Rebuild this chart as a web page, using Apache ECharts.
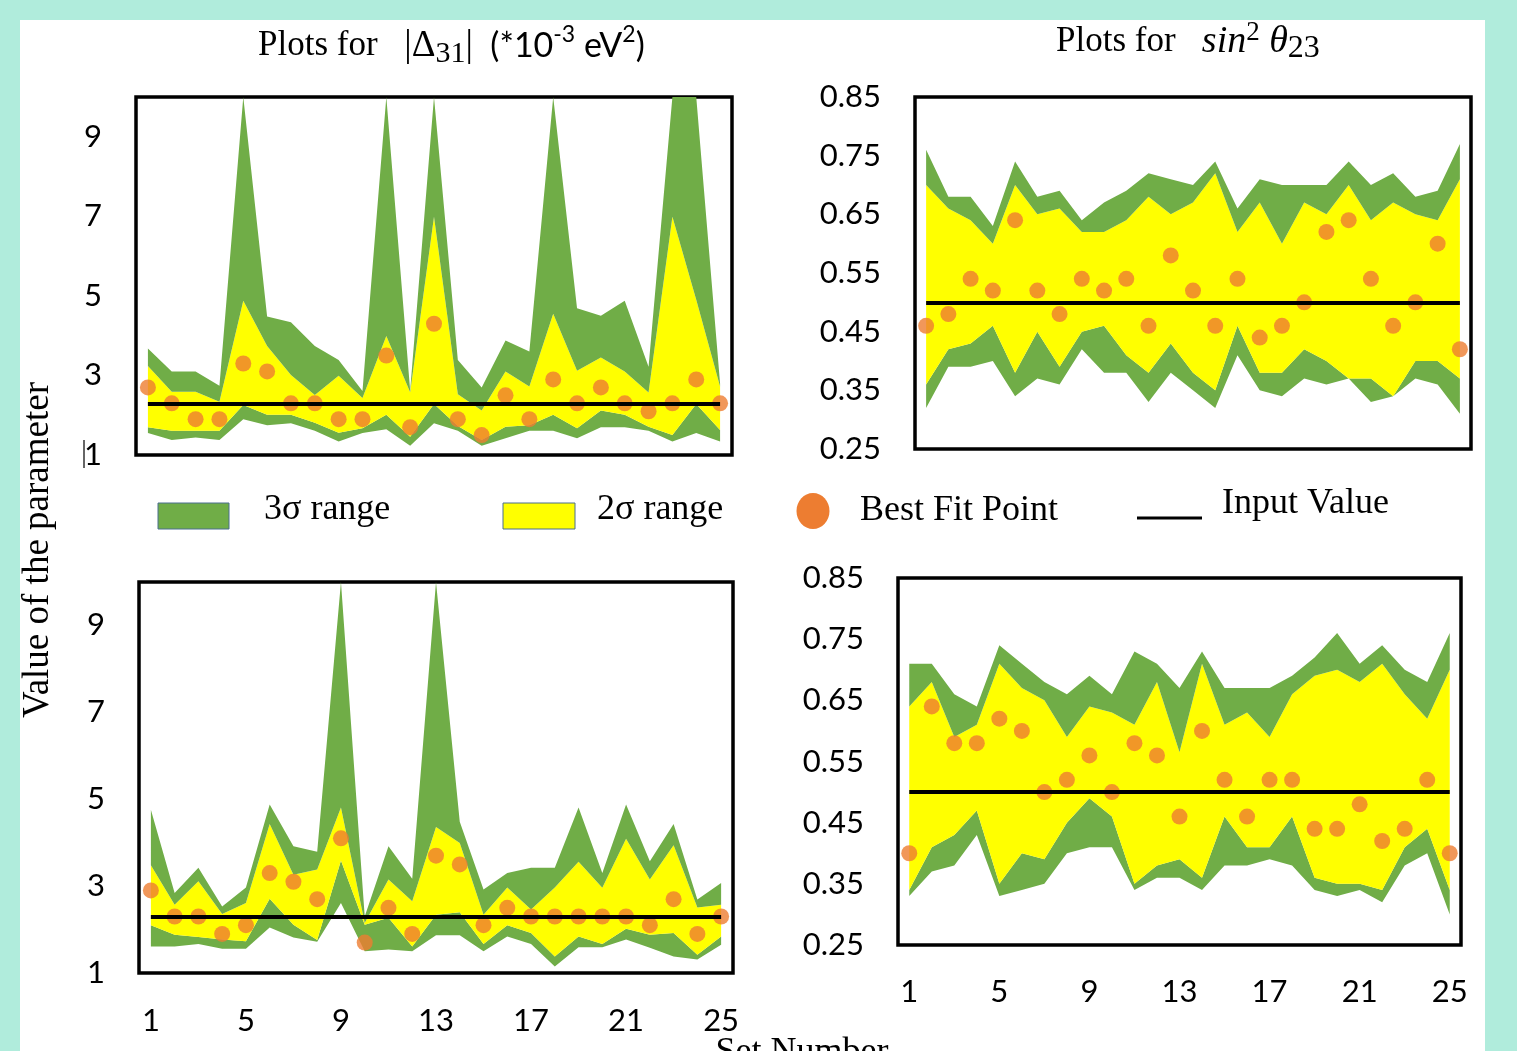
<!DOCTYPE html>
<html>
<head>
<meta charset="utf-8">
<script src="https://cdn.jsdelivr.net/npm/echarts@6/dist/echarts.min.js"></script>
<style>
html,body{margin:0;padding:0;background:#b0ecdc;width:1517px;height:1051px;overflow:hidden;}
#bg{position:absolute;left:20px;top:20px;width:1465px;height:1031px;background:#fff;}
#c{position:absolute;left:0;top:0;width:1517px;height:1051px;}
</style>
</head>
<body>
<div id="bg"></div>
<div id="c"></div>
<script>
// ---------- data ----------
const sets = ['1','2','3','4','5','6','7','8','9','10','11','12','13','14','15','16','17','18','19','20','21','22','23','24','25'];
const setTicksShown = ['1','5','9','13','17','21','25'];
const deltaTicks = [1, 3, 5, 7, 9];
const thetaTicks = [0.25, 0.35, 0.45, 0.55, 0.65, 0.75, 0.85];
const inputDelta = 2.3;
const inputTheta = 0.5;

// top-left: |Δ31|
const dTopBest = [2.7,2.3,1.9,1.9,3.3,3.1,2.3,2.3,1.9,1.9,3.5,1.7,4.3,1.9,1.5,2.5,1.9,2.9,2.3,2.7,2.3,2.1,2.3,2.9,2.3];
const dTop3Up  = [3.68,3.1,3.1,2.74,10,4.48,4.34,3.74,3.39,2.61,10,2.62,10,3.39,2.7,3.88,3.6,10,4.69,4.5,4.88,3.22,10,10,2.8];
const dTop2Up  = [3.24,2.59,2.59,2.34,4.88,3.74,3.01,2.51,2.99,2.43,3.99,2.58,6.99,2.53,2.12,3.1,2.72,4.55,3.12,3.45,3.1,2.57,6.99,4.9,2.72];
const dTop2Lo  = [1.7,1.61,1.61,1.61,2.26,2.01,2.01,1.81,1.56,1.67,2.01,1.46,2.28,1.73,1.38,1.71,1.75,2.01,1.67,2.12,2.01,1.71,1.5,2.28,1.63];
const dTop3Lo  = [1.55,1.38,1.44,1.38,1.9,1.75,1.8,1.61,1.34,1.55,1.65,1.23,1.8,1.61,1.23,1.42,1.61,1.61,1.42,1.7,1.7,1.61,1.34,1.55,1.34];

// top-right: sin^2 θ23
const tTopBest = [0.46,0.48,0.54,0.52,0.64,0.52,0.48,0.54,0.52,0.54,0.46,0.58,0.52,0.46,0.54,0.44,0.46,0.50,0.62,0.64,0.54,0.46,0.50,0.60,0.42];
const tTop3Up  = [0.76,0.68,0.68,0.63,0.74,0.68,0.69,0.64,0.67,0.69,0.72,0.71,0.70,0.74,0.66,0.71,0.70,0.70,0.70,0.74,0.70,0.72,0.68,0.69,0.77];
const tTop2Up  = [0.70,0.66,0.64,0.60,0.70,0.65,0.66,0.62,0.62,0.64,0.68,0.65,0.67,0.72,0.62,0.67,0.60,0.67,0.65,0.70,0.64,0.67,0.65,0.64,0.71];
const tTop2Lo  = [0.36,0.42,0.43,0.46,0.38,0.45,0.39,0.45,0.46,0.41,0.38,0.43,0.38,0.35,0.46,0.38,0.38,0.42,0.40,0.37,0.37,0.34,0.40,0.40,0.37];
const tTop3Lo  = [0.32,0.39,0.39,0.40,0.34,0.37,0.36,0.42,0.38,0.38,0.33,0.38,0.35,0.32,0.41,0.35,0.34,0.37,0.36,0.37,0.33,0.34,0.37,0.36,0.31];

// bottom-left: |Δ31|
const dBotBest = [2.9,2.3,2.3,1.9,2.1,3.3,3.1,2.7,4.1,1.7,2.5,1.9,3.7,3.5,2.1,2.5,2.3,2.3,2.3,2.3,2.3,2.1,2.7,1.9,2.3];
const dBot3Up  = [4.76,2.84,3.42,2.53,2.97,4.88,3.92,3.79,10,2.3,3.92,3.17,10,4.48,2.92,3.3,3.42,3.42,4.81,3.3,4.88,3.57,4.43,2.69,3.07];
const dBot2Up  = [3.48,2.57,3.11,2.36,2.61,4.43,3.26,3.38,4.81,2.15,3.15,2.65,4.36,3.99,2.34,2.97,2.46,2.97,3.56,2.96,4.09,3.15,3.94,2.51,2.57];
const dBot2Lo  = [2.10,1.88,1.83,1.77,1.73,2.71,2.11,1.76,3.59,2.11,2.27,1.61,2.34,2.40,1.67,2.10,1.92,1.38,1.84,1.67,2.02,1.88,1.92,1.42,1.84];
const dBot3Lo  = [1.61,1.61,1.67,1.56,1.56,2.05,1.82,1.72,2.61,1.50,1.54,1.50,1.87,1.87,1.50,1.84,1.67,1.15,1.59,1.59,1.77,1.58,1.38,1.31,1.65];

// bottom-right: sin^2 θ23
const tBotBest = [0.40,0.64,0.58,0.58,0.62,0.60,0.50,0.52,0.56,0.50,0.58,0.56,0.46,0.60,0.52,0.46,0.52,0.52,0.44,0.44,0.48,0.42,0.44,0.52,0.40];
const tBot3Up  = [0.71,0.71,0.66,0.64,0.74,0.71,0.68,0.66,0.69,0.66,0.73,0.71,0.67,0.73,0.67,0.67,0.67,0.69,0.72,0.76,0.71,0.74,0.70,0.68,0.76];
const tBot2Up  = [0.64,0.68,0.59,0.61,0.71,0.67,0.65,0.59,0.64,0.63,0.61,0.68,0.565,0.71,0.61,0.63,0.59,0.66,0.69,0.70,0.68,0.71,0.66,0.62,0.70];
const tBot2Lo  = [0.34,0.41,0.43,0.47,0.35,0.40,0.39,0.45,0.49,0.46,0.35,0.38,0.39,0.36,0.46,0.41,0.41,0.46,0.36,0.35,0.35,0.34,0.41,0.44,0.34];
const tBot3Lo  = [0.33,0.37,0.38,0.43,0.33,0.34,0.35,0.40,0.41,0.41,0.34,0.36,0.36,0.34,0.38,0.38,0.39,0.38,0.34,0.33,0.34,0.32,0.38,0.40,0.30];

// ---------- styling ----------
const GREEN = '#70AD47', YELLOW = '#FFFF00', ORANGE = '#ED7D31';
const SERIF = "'Liberation Serif', 'Times New Roman', serif";
const SANS = "Lato, 'Open Sans', sans-serif";

const panels = [
  {grid:{left:136, top:97, width:596, height:358}, kind:'delta', showX:false, xMargin:0,
   best:dTopBest, up3:dTop3Up, up2:dTop2Up, lo2:dTop2Lo, lo3:dTop3Lo},
  {grid:{left:915, top:97, width:556, height:352}, kind:'theta', showX:false, xMargin:0,
   best:tTopBest, up3:tTop3Up, up2:tTop2Up, lo2:tTop2Lo, lo3:tTop3Lo},
  {grid:{left:139, top:582, width:594, height:391}, kind:'delta', showX:true, xMargin:32,
   best:dBotBest, up3:dBot3Up, up2:dBot2Up, lo2:dBot2Lo, lo3:dBot3Lo},
  {grid:{left:898, top:578, width:563, height:367}, kind:'theta', showX:true, xMargin:31,
   best:tBotBest, up3:tBot3Up, up2:tBot2Up, lo2:tBot2Lo, lo3:tBot3Lo}
];

const grids = [], xAxes = [], yAxes = [], series = [];
const diff = (a, b) => a.map((v, i) => +(v - b[i]).toFixed(4));

panels.forEach((p, i) => {
  grids.push(Object.assign({show:true, borderColor:'#000', borderWidth:3.5, backgroundColor:'transparent', outerBoundsMode:'none', containLabel:false}, p.grid));
  xAxes.push({
    type:'category', gridIndex:i, data:sets, boundaryGap:true,
    axisLine:{show:false}, axisTick:{show:false}, splitLine:{show:false},
    axisLabel:{show:p.showX, interval:(idx, val) => setTicksShown.indexOf(val) >= 0, margin:p.xMargin,
      fontFamily:SANS, fontSize:31, color:'#000'}
  });
  const isDelta = p.kind === 'delta';
  yAxes.push({
    type:'value', gridIndex:i,
    min: isDelta ? 1 : 0.25, max: isDelta ? 10 : 0.85,
    axisLine:{show:false}, axisTick:{show:false}, splitLine:{show:false},
    axisLabel:{customValues: isDelta ? deltaTicks : thetaTicks, margin:34,
      fontFamily:SANS, fontSize:31, color:'#000',
      formatter: v => isDelta ? String(Math.round(v)) : v.toFixed(2)}
  });
  const common = {type:'line', xAxisIndex:i, yAxisIndex:i, stack:'band'+i, symbol:'none',
    silent:true, animation:false, lineStyle:{width:0}, z:2};
  series.push(Object.assign({}, common, {name:'base'+i, data:p.lo3}));
  series.push(Object.assign({}, common, {name:'3σ range', data:diff(p.lo2, p.lo3), areaStyle:{color:GREEN, opacity:1}}));
  series.push(Object.assign({}, common, {name:'2σ range', data:diff(p.up2, p.lo2), areaStyle:{color:YELLOW, opacity:1}}));
  series.push(Object.assign({}, common, {name:'3σ range', data:diff(p.up3, p.up2), areaStyle:{color:GREEN, opacity:1}}));
  const inp = isDelta ? inputDelta : inputTheta;
  series.push({
    type:'line', name:'Input Value', xAxisIndex:i, yAxisIndex:i, data:[], z:3, animation:false,
    markLine:{silent:true, animation:false, symbol:['none','none'], label:{show:false},
      lineStyle:{color:'#000', width:4, type:'solid'},
      emphasis:{disabled:true},
      data:[[{coord:[sets[0], inp]}, {coord:[sets[sets.length-1], inp]}]]}
  });
  series.push({
    type:'scatter', name:'Best Fit Point', xAxisIndex:i, yAxisIndex:i, data:p.best,
    symbol:'circle', symbolSize:16, itemStyle:{color:ORANGE}, z:4, animation:false, silent:true
  });
});

const graphic = [
  // titles
  {type:'text', x:258, y:46, style:{
    text:'{s|Plots for  }{m| |Δ}{sub|31}{m||}{c|  (*10}{sup|-3}{c| eV}{sup|2}{c|)}',
    textVerticalAlign:'middle', fill:'#000',
    rich:{
      s:{fontFamily:SERIF, fontSize:35, lineHeight:46, verticalAlign:'middle'},
      m:{fontFamily:SERIF, fontSize:37, lineHeight:46, verticalAlign:'middle'},
      c:{fontFamily:SANS, fontSize:34, lineHeight:46, verticalAlign:'middle'},
      sub:{fontFamily:SERIF, fontSize:30, lineHeight:26, verticalAlign:'bottom'},
      sup:{fontFamily:SANS, fontSize:23, lineHeight:24, verticalAlign:'top'}
    }}},
  {type:'text', x:1056, y:42, style:{
    text:'{s|Plots for   }{i|sin}{sup|2}{i| θ}{sub|23}',
    textVerticalAlign:'middle', fill:'#000',
    rich:{
      s:{fontFamily:SERIF, fontSize:35, lineHeight:46, verticalAlign:'middle'},
      i:{fontFamily:SERIF, fontStyle:'italic', fontSize:38, lineHeight:46, verticalAlign:'middle'},
      sub:{fontFamily:SERIF, fontSize:32, lineHeight:27, verticalAlign:'bottom'},
      sup:{fontFamily:SERIF, fontSize:27, lineHeight:24, verticalAlign:'top'}
    }}},
  // axis titles
  {type:'text', x:38, y:550, rotation:Math.PI/2, style:{
    text:'Value of the parameter', fontFamily:SERIF, fontSize:37, fill:'#000',
    textAlign:'center', textVerticalAlign:'middle'}},
  {type:'text', x:802, y:1053, style:{
    text:'Set Number', fontFamily:SERIF, fontSize:36, fill:'#000',
    textAlign:'center', textVerticalAlign:'middle'}},
  // small stray tick mark beside the bottom label of the first panel
  {type:'line', shape:{x1:84, y1:440, x2:84, y2:468}, style:{stroke:'#333', lineWidth:1.5}},
  // legend
  {type:'rect', shape:{x:158, y:503, width:71, height:26}, style:{fill:GREEN, stroke:'#4a6f8f', lineWidth:1}},
  {type:'text', x:264, y:510, style:{text:'3σ range', fontFamily:SERIF, fontSize:36, fill:'#000', textVerticalAlign:'middle'}},
  {type:'rect', shape:{x:503, y:503, width:72, height:26}, style:{fill:YELLOW, stroke:'#4a6f8f', lineWidth:1}},
  {type:'text', x:597, y:510, style:{text:'2σ range', fontFamily:SERIF, fontSize:36, fill:'#000', textVerticalAlign:'middle'}},
  {type:'ellipse', shape:{cx:813, cy:511, rx:16.5, ry:18}, style:{fill:ORANGE}},
  {type:'text', x:860, y:511, style:{text:'Best Fit Point', fontFamily:SERIF, fontSize:36, fill:'#000', textVerticalAlign:'middle'}},
  {type:'line', shape:{x1:1137, y1:518, x2:1202, y2:518}, style:{stroke:'#000', lineWidth:3}},
  {type:'text', x:1222, y:504, style:{text:'Input Value', fontFamily:SERIF, fontSize:36, fill:'#000', textVerticalAlign:'middle'}}
];

const chart = echarts.init(document.getElementById('c'), null, {renderer:'canvas'});
chart.setOption({
  backgroundColor:'transparent',
  animation:false,
  grid:grids, xAxis:xAxes, yAxis:yAxes, series:series, graphic:graphic
});
</script>
</body>
</html>
